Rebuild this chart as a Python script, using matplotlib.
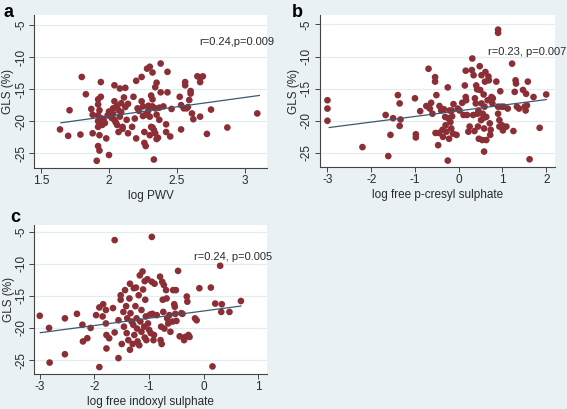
import numpy as np
import matplotlib
matplotlib.use("Agg")
from matplotlib import pyplot as plt

plt.rcParams['font.family'] = ['Liberation Sans', 'DejaVu Sans']

# panel a: log PWV vs GLS
pwv_x = [1.64, 1.70, 1.71, 1.79, 1.80, 1.83, 1.87, 1.88, 1.88, 1.91, 1.92, 1.92, 1.93, 1.92,
         1.92, 1.92, 1.92, 1.93, 1.93, 1.94, 1.94, 1.95, 1.95, 1.96, 1.98, 1.99, 2.00, 2.03,
         2.03, 2.04, 2.04, 2.04, 2.06, 2.07, 2.07, 2.08, 2.08, 2.09, 2.10, 2.11, 2.12, 2.12,
         2.13, 2.14, 2.17, 2.18, 2.19, 2.20, 2.20, 2.21, 2.22, 2.24, 2.24, 2.25, 2.26, 2.26,
         2.27, 2.28, 2.28, 2.29, 2.30, 2.30, 2.31, 2.31, 2.32, 2.32, 2.32, 2.33, 2.33, 2.34,
         2.34, 2.35, 2.35, 2.36, 2.37, 2.37, 2.38, 2.38, 2.40, 2.42, 2.42, 2.43, 2.43, 2.45,
         2.46, 2.52, 2.53, 2.53, 2.55, 2.56, 2.56, 2.57, 2.58, 2.59, 2.60, 2.60, 2.61, 2.62,
         2.65, 2.67, 2.67, 2.67, 2.69, 2.72, 2.75, 2.87, 3.09,
         2.02, 2.05, 2.09, 2.14, 2.29, 2.34, 2.30, 2.35, 2.25, 2.06, 1.97, 2.00, 2.27, 2.32, 2.10]
pwv_y = [-21.3, -22.3, -18.3, -22.1, -13.1, -15.8, -18.1, -19.0, -21.9, -26.2, -16.6, -17.4, -18.3, -19.1,
         -20.0, -20.9, -23.9, -24.6, -22.2, -13.9, -16.2, -19.6, -20.6, -19.8, -22.7, -19.1, -25.3, -18.0,
         -18.9, -19.8, -14.4, -16.9, -20.6, -21.7, -18.3, -14.9, -19.3, -17.2, -20.9, -16.3, -14.8, -17.8,
         -19.8, -21.9, -20.9, -16.2, -19.6, -22.7, -13.7, -18.0, -18.4, -13.1, -16.9, -17.7, -21.7, -23.4,
         -23.9, -18.8, -11.8, -17.6, -11.5, -19.3, -20.9, -16.0, -16.6, -12.4, -17.7, -21.4, -26.0, -14.7,
         -21.9, -19.0, -14.0, -22.6, -19.8, -17.9, -11.0, -15.5, -17.7, -20.5, -21.7, -12.3, -15.5, -22.4,
         -18.1, -16.2, -21.3, -17.5, -18.0, -13.9, -14.4, -18.0, -17.8, -16.7, -15.7, -15.3, -18.8, -19.7,
         -13.0, -13.2, -13.9, -19.3, -13.0, -22.0, -18.2, -21.0, -18.8,
         -19.5, -20.2, -18.6, -17.3, -18.3, -18.0, -22.2, -22.8, -19.2, -17.6, -20.3, -18.5, -19.0, -21.0, -21.2]
pwv_fit_x = [1.647, 3.105]
pwv_fit_y = [-20.26, -15.99]

# panel b: log free p-cresyl sulphate vs GLS
pcs_x = [-3.0, -3.0, -3.0, -2.2, -1.67, -1.61, -1.56, -1.50, -1.39, -1.35, -1.33, -1.35, -1.0, -0.98,
         -0.98, -0.88, -0.74, -0.69, -0.66, -0.63, -0.60, -0.54, -0.54, -0.51, -0.53, -0.47, -0.45, -0.44,
         -0.40, -0.37, -0.36, -0.34, -0.31, -0.30, -0.28, -0.25, -0.25, -0.24, -0.22, -0.21, -0.19, -0.17,
         -0.16, -0.15, -0.13, -0.12, -0.05, -0.02, 0.02, 0.08, 0.11, 0.14, 0.16, 0.16, 0.17, 0.19,
         0.22, 0.25, 0.30, 0.31, 0.33, 0.34, 0.36, 0.37, 0.39, 0.40, 0.42, 0.43, 0.44, 0.45,
         0.46, 0.48, 0.49, 0.51, 0.52, 0.52, 0.54, 0.55, 0.56, 0.57, 0.58, 0.58, 0.59, 0.60,
         0.61, 0.63, 0.63, 0.66, 0.68, 0.69, 0.71, 0.72, 0.73, 0.75, 0.77, 0.78, 0.90, 0.90,
         0.86, 0.90, 0.90, 0.93, 0.93, 0.95, 0.97, 0.99, 1.01, 1.03, 1.09, 1.12, 1.22, 1.25,
         1.28, 1.30, 1.31, 1.33, 1.38, 1.47, 1.51, 1.53, 1.54, 1.56, 1.58, 1.62, 1.71, 1.85, 2.0]
pcs_y = [-16.8, -18.1, -20.0, -24.1, -19.1, -25.5, -22.2, -19.6, -16.0, -17.3, -19.8, -20.8, -16.5, -22.1,
         -22.6, -18.5, -17.7, -11.9, -18.1, -17.2, -18.9, -13.2, -13.9, -16.0, -21.9, -23.8, -21.9, -17.7,
         -18.4, -21.4, -22.5, -18.2, -19.4, -20.7, -21.7, -14.8, -26.2, -19.6, -22.8, -18.4, -20.2, -21.2,
         -18.4, -19.3, -22.0, -17.4, -22.2, -18.1, -18.4, -17.2, -19.1, -14.5, -12.2, -16.3, -16.8, -19.1,
         -21.7, -20.9, -12.1, -10.3, -19.1, -12.9, -21.6, -16.5, -17.3, -14.5, -15.1, -18.9, -20.9, -18.4,
         -22.8, -11.5, -15.2, -19.9, -12.9, -17.3, -23.0, -18.9, -19.6, -15.9, -21.2, -24.8, -17.8, -13.9,
         -12.4, -19.4, -23.0, -16.8, -13.1, -13.7, -20.4, -22.2, -21.4, -16.3, -17.3, -16.5, -5.8, -6.3,
         -13.9, -17.8, -18.9, -19.9, -20.9, -15.4, -17.8, -20.7, -21.5, -17.8, -20.9, -18.1, -11.1, -21.6,
         -15.5, -13.7, -14.2, -17.8, -18.1, -15.2, -17.8, -18.4, -15.8, -17.6, -13.9, -26.0, -16.3, -21.1, -15.9]
pcs_fit_x = [-2.96, 2.0]
pcs_fit_y = [-21.05, -16.7]

# panel c: log free indoxyl sulphate vs GLS
ind_x = [-3.0, -2.83, -2.82, -2.54, -2.54, -2.32, -2.22, -2.21, -2.13, -2.07, -1.97, -1.91, -1.91, -1.84,
         -1.85, -1.79, -1.79, -1.78, -1.78, -1.73, -1.66, -1.63, -1.63, -1.56, -1.56, -1.52, -1.52, -1.50,
         -1.47, -1.46, -1.44, -1.42, -1.41, -1.40, -1.38, -1.36, -1.35, -1.35, -1.34, -1.32, -1.30, -1.29,
         -1.28, -1.27, -1.25, -1.24, -1.23, -1.22, -1.21, -1.19, -1.18, -1.17, -1.16, -1.14, -1.14, -1.12,
         -1.11, -1.09, -1.08, -1.08, -1.07, -1.06, -1.05, -1.03, -1.02, -1.00, -0.98, -0.97, -0.95, -0.95,
         -0.94, -0.92, -0.91, -0.90, -0.86, -0.80, -0.79, -0.78, -0.77, -0.76, -0.75, -0.74, -0.73, -0.72,
         -0.69, -0.68, -0.67, -0.65, -0.63, -0.61, -0.57, -0.56, -0.54, -0.53, -0.52, -0.51, -0.50, -0.47,
         -0.44, -0.41, -0.39, -0.36, -0.34, -0.31, -0.30, -0.28, -0.26, -0.16, -0.13, -0.08, 0.13, 0.16,
         0.21, 0.30, 0.32, 0.33, 0.47, 0.68]
ind_y = [-18.1, -20.0, -25.4, -18.5, -24.1, -17.8, -19.5, -22.1, -21.6, -20.0, -18.0, -26.1, -16.8, -16.3,
         -18.2, -17.2, -19.3, -21.1, -23.2, -21.6, -16.9, -6.3, -20.7, -24.7, -18.8, -14.9, -15.6, -22.5,
         -17.5, -19.8, -14.1, -16.6, -20.8, -18.5, -21.9, -15.4, -13.1, -23.4, -17.7, -19.0, -22.5, -19.5,
         -13.8, -21.1, -16.6, -13.7, -18.5, -20.1, -22.1, -14.9, -22.7, -11.8, -19.0, -17.2, -20.6, -11.2,
         -14.0, -19.8, -21.5, -12.7, -15.6, -18.2, -21.9, -12.4, -19.3, -20.3, -17.9, -20.8, -5.8, -12.8,
         -17.8, -21.9, -21.1, -13.1, -18.0, -12.0, -21.9, -19.8, -22.5, -12.8, -15.6, -17.5, -13.3, -20.1,
         -14.1, -15.4, -18.5, -19.3, -18.0, -20.6, -19.0, -14.1, -16.3, -16.7, -17.8, -14.1, -18.9, -11.1,
         -21.3, -17.7, -17.8, -21.9, -21.4, -15.1, -15.9, -21.1, -21.4, -18.5, -18.8, -13.8, -13.7, -26.0,
         -16.2, -10.3, -17.5, -16.3, -17.5, -15.8]
ind_fit_x = [-2.99, 0.68]
ind_fit_y = [-20.74, -16.58]

yticks = [-5, -10, -15, -20, -25]

bg = '#e9f1f4'
dot = '#8b2e35'
fitcol = '#3b5a70'

fig = plt.figure(figsize=(5.67, 4.09), dpi=100)
fig.patch.set_facecolor(bg)


def panel(rect, x, y, fx, fy, xlim, ylim, xticks, xlabel, note, note_xy, letter, letter_xy):
    ax = fig.add_axes(rect)
    ax.set_facecolor('white')
    ax.set_xlim(*xlim)
    ax.set_ylim(*ylim)
    for yt in yticks:
        ax.axhline(yt, color='#e3ecef', lw=0.9, zorder=0)
    ax.scatter(x, y, s=23, color=dot, edgecolors='none', zorder=2)
    ax.plot(fx, fy, color=fitcol, lw=0.9, zorder=3)
    ax.set_xticks(xticks)
    ax.set_xticklabels([('%g' % t) for t in xticks])
    ax.set_yticks(yticks)
    ax.set_yticklabels([str(t) for t in yticks], rotation=90, va='center')
    ax.tick_params(labelsize=8.5, length=3.5, width=0.7, color='#444444', pad=1.5, labelcolor='#2a2a2a')
    for s in ['top', 'right']:
        ax.spines[s].set_visible(False)
    for s in ['left', 'bottom']:
        ax.spines[s].set_color('#444444')
        ax.spines[s].set_linewidth(0.8)
    ax.set_xlabel(xlabel, fontsize=8.5, color='#2a2a2a', labelpad=2)
    ax.set_ylabel('GLS (%)', fontsize=8.5, color='#2a2a2a', labelpad=0.5)
    ax.text(note_xy[0], note_xy[1], note, fontsize=8, color='#2a2a2a', ha='left', va='center', clip_on=False)
    fig.text(letter_xy[0], letter_xy[1], letter, fontsize=13, fontweight='bold', ha='left', va='center')
    return ax


panel([0.060, 0.589, 0.411, 0.374], pwv_x, pwv_y, pwv_fit_x, pwv_fit_y,
      (1.449, 3.162), (-27.34, -3.44), [1.5, 2, 2.5, 3], 'log PWV',
      'r=0.24,p=0.009', (2.66, -7.6), 'a', (0.006, 0.970))
panel([0.564, 0.592, 0.414, 0.371], pcs_x, pcs_y, pcs_fit_x, pcs_fit_y,
      (-3.175, 2.19), (-27.18, -3.545), [-3, -2, -1, 0, 1, 2], 'log free p-cresyl sulphate',
      'r=0.23, p=0.007', (0.67, -9.26), 'b', (0.515, 0.970))
panel([0.0605, 0.0856, 0.410, 0.364], ind_x, ind_y, ind_fit_x, ind_fit_y,
      (-3.10, 1.153), (-27.18, -3.96), [-3, -2, -1, 0, 1], 'log free indoxyl sulphate',
      'r=0.24, p=0.005', (-0.17, -9.0), 'c', (0.018, 0.467))

fig.savefig('out.png', dpi=100, facecolor=bg)
